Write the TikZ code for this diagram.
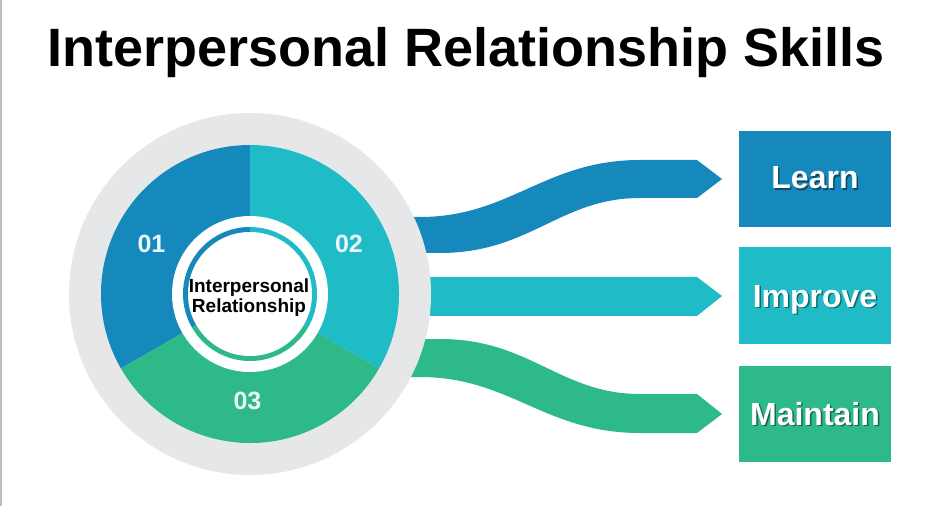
\documentclass[tikz,border=0pt]{standalone}
\usepackage{fontspec}
\setmainfont{Liberation Sans}
\usetikzlibrary{calc}
\definecolor{cblue}{RGB}{21,137,187}
\definecolor{cteal}{RGB}{31,188,200}
\definecolor{cgreen}{RGB}{46,185,136}
\definecolor{cgrey}{RGB}{230,231,232}
\definecolor{cedge}{RGB}{190,190,190}
\definecolor{cnum}{RGB}{236,246,248}
\begin{document}
\begin{tikzpicture}[x=0.75pt,y=-0.75pt,
  titletext/.style={font=\bfseries\fontsize{40.5pt}{48pt}\selectfont,inner sep=0pt,anchor=base},
  numtext/.style={text=cnum,font=\bfseries\fontsize{18.75pt}{22pt}\selectfont,inner sep=0pt},
  ctrtext/.style={font=\bfseries\fontsize{14.25pt}{16pt}\selectfont,inner sep=0pt,anchor=base},
  box/.style={minimum width=114pt,minimum height=72pt,inner sep=0pt,draw=none},
  boxtext/.style={text=white,font=\bfseries\fontsize{24pt}{28pt}\selectfont,inner sep=0pt,anchor=base},
  boxshadow/.style={text=black,text opacity=0.45,font=\bfseries\fontsize{24pt}{28pt}\selectfont,inner sep=0pt,anchor=base}]
\useasboundingbox (0,0) rectangle (947,506);
\fill[white] (0,0) rectangle (947,506);
\fill[cedge] (0,0) rectangle (1.6,506);

% title
\node[titletext] (title) at (466,67) {Interpersonal Relationship Skills};

\coordinate (c) at (250,294);

% ribbons
\fill[cblue] (380,217) -- (420,217) .. controls (510,217) and (545,160) .. (640,160) -- (697,160) -- (722,179) -- (697,198) -- (640,198) .. controls (560,198) and (530,253) .. (440,253) -- (380,253) -- cycle;
\fill[cteal] (380,277) -- (697,277) -- (722,296) -- (697,316) -- (380,316) -- cycle;
\fill[cgreen] (380,339) -- (440,339) .. controls (530,339) and (560,394) .. (640,394) -- (697,394) -- (722,414) -- (697,433) -- (640,433) .. controls (545,433) and (510,377) .. (420,377) -- (380,377) -- cycle;

% outer grey disc
\fill[cgrey] (c) circle[radius=135.75pt];

% sectors
\fill[cblue] (c) -- ($(c)+(90:111.75pt)$) arc[start angle=90,end angle=210,radius=111.75pt] -- cycle;
\fill[cteal] (c) -- ($(c)+(-30:111.75pt)$) arc[start angle=-30,end angle=90,radius=111.75pt] -- cycle;
\fill[cgreen] (c) -- ($(c)+(210:111.75pt)$) arc[start angle=210,end angle=330,radius=111.75pt] -- cycle;
\fill[white] (c) circle[radius=58.5pt];

% thin inner ring
\fill[cblue] (c) -- ($(c)+(90:50.25pt)$) arc[start angle=90,end angle=210,radius=50.25pt] -- cycle;
\fill[cteal] (c) -- ($(c)+(-30:50.25pt)$) arc[start angle=-30,end angle=90,radius=50.25pt] -- cycle;
\fill[cgreen] (c) -- ($(c)+(210:50.25pt)$) arc[start angle=210,end angle=330,radius=50.25pt] -- cycle;
\fill[white] (c) circle[radius=46.5pt];

% numbers
\node[numtext] (n1) at (151.5,244) {01};
\node[numtext] (n2) at (349,244) {02};
\node[numtext] (n3) at (247.5,401) {03};

% centre text
\node[ctrtext] (ctrA) at (249,292) {Interpersonal};
\node[ctrtext] (ctrB) at (249,313) {Relationship};

% boxes
\node[box,fill=cblue] (learn) at (815,179) {};
\node[box,fill=cteal] (improve) at (815,295.5) {};
\node[box,fill=cgreen] (maintain) at (815,414) {};

\node[boxshadow] (learnS) at (816.5,190.5) {Learn};
\node[boxtext] (learnT) at (815,189) {Learn};
\node[boxshadow] (improveS) at (816.5,308.5) {Improve};
\node[boxtext] (improveT) at (815,307) {Improve};
\node[boxshadow] (maintainS) at (816.5,426.5) {Maintain};
\node[boxtext] (maintainT) at (815,425) {Maintain};
\end{tikzpicture}
\end{document}
